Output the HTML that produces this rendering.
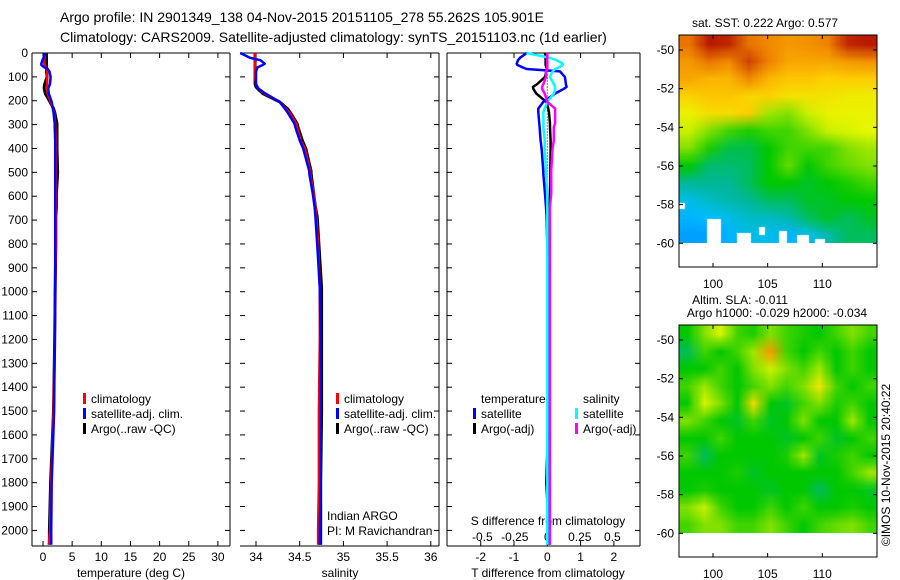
<!DOCTYPE html>
<html><head><meta charset="utf-8"><style>
body{margin:0;background:#fff;width:900px;height:580px;overflow:hidden;position:relative;font-family:"Liberation Sans",sans-serif}
svg{position:absolute;left:0;top:0}
canvas{position:absolute;image-rendering:auto}
text{font-family:"Liberation Sans",sans-serif;fill:#000}
</style></head><body>
<canvas id="sst" width="198" height="208" style="left:679px;top:35px;width:198px;height:208px"></canvas>
<canvas id="sla" width="198" height="208" style="left:679px;top:325px;width:198px;height:208px"></canvas>
<svg id="chart" width="900" height="580"></svg>
<script>
// ---- data ----
const depths = [0,20,30,45,50,60,67,77,100,130,142,150,170,205,233,248,296,310,366,400,495,505,590,645,685,800,985,1200,1500,1800,2000,2060];
const tempClim = [0.4,0.3,0.2,0.2,0.3,0.5,0.6,0.7,0.7,0.7,0.6,0.6,0.8,1.3,1.7,1.9,2.1,2.1,2.2,2.2,2.2,2.2,2.2,2.2,2.2,2.2,2.1,2.0,1.8,1.4,1.2,1.0];
const tempSat  = [0.35,0.1,-0.1,-0.3,-0.3,0.2,0.8,1.1,1.3,1.2,1.0,0.9,1.0,1.5,1.7,1.8,2.0,2.0,2.1,2.1,2.1,2.1,2.1,2.1,2.1,2.1,2.1,2.0,1.9,1.5,1.4,1.4];
const tempArgo = [0.6,0.6,0.6,0.6,0.6,0.6,0.6,0.6,0.7,0.3,0.2,0.2,0.4,1.2,1.8,2.0,2.4,2.4,2.4,2.4,2.5,2.5,2.3,2.3,2.2,2.2,2.1,2.0,1.8,1.3,1.1,1.1];
const salClim = [33.99,33.99,33.99,33.99,33.99,33.99,33.99,33.99,33.99,34.0,34.02,34.03,34.1,34.27,34.34,34.38,34.46,34.47,34.51,34.56,34.62,34.62,34.66,34.68,34.69,34.71,34.73,34.73,34.72,34.72,34.71,34.71];
const salSat  = [33.82,33.93,34.05,34.1,34.08,34.02,34.01,34.0,34.0,34.0,34.01,34.03,34.11,34.27,34.33,34.36,34.44,34.45,34.5,34.54,34.61,34.61,34.65,34.67,34.68,34.7,34.73,34.74,34.74,34.74,34.73,34.73];
const salArgo = [33.99,33.99,33.99,33.99,33.99,33.99,33.99,33.99,33.99,33.99,34.0,34.02,34.08,34.27,34.36,34.39,34.47,34.48,34.53,34.57,34.63,34.63,34.66,34.68,34.7,34.72,34.75,34.75,34.75,34.74,34.74,34.74];
const tdiffSat  = [-0.62,-0.82,-0.88,-0.92,-0.9,-0.75,-0.62,0.38,0.53,0.56,0.58,0.5,0.23,-0.12,-0.27,-0.27,-0.24,-0.23,-0.2,-0.17,-0.12,-0.12,-0.07,-0.04,-0.02,0,0.02,0.03,0.04,0.05,0.05,0.05];
const tdiffArgo = [-0.07,-0.05,-0.05,-0.05,-0.05,-0.03,0.0,-0.03,-0.07,-0.3,-0.43,-0.42,-0.33,-0.03,0.03,0.05,0.08,0.08,0.1,0.1,0.09,0.09,0.08,0.07,0.07,0.06,0.05,0.05,0.04,-0.03,0.05,0.05];
const sdiffSat  = [-0.16,0.02,0.07,0.12,0.12,0.09,0.06,0.04,0.02,0.05,0.06,0.06,0.05,0.0,-0.02,-0.03,-0.03,-0.03,-0.02,-0.02,-0.01,-0.01,0,0,0,0,0,0,0,0,0,0];
const sdiffArgo = [0,0,0,0,0,0,0,-0.01,-0.01,-0.03,-0.04,-0.04,-0.02,0.0,0.06,0.06,0.06,0.05,0.05,0.04,0.03,0.03,0.03,0.02,0.02,0.02,0.02,0.02,0.02,0.02,0.02,0.02];
const depthTicks = [0,100,200,300,400,500,600,700,800,900,1000,1100,1200,1300,1400,1500,1600,1700,1800,1900,2000];
const tempTicks = [0,5,10,15,20,25,30];
const salTicks = [34,34.5,35,35.5,36];
const tdiffTicks = [-2,-1,0,1,2];
const sdiffTicks = [-0.5,-0.25,0,0.25,0.5];
const latTicks = [-50,-52,-54,-56,-58,-60];
const lonTicks = [100,105,110];
const sstGrid = [
[.86,.93,.92,.86,.84,.82,.83,.85,.92,.93],
[.82,.86,.84,.9,.85,.8,.8,.8,.82,.83],
[.8,.78,.78,.84,.78,.76,.76,.74,.75,.75],
[.74,.76,.76,.73,.74,.71,.71,.71,.69,.69],
[.68,.72,.72,.75,.62,.6,.65,.68,.68,.68],
[.65,.6,.55,.52,.55,.55,.6,.65,.66,.67],
[.6,.52,.46,.46,.5,.55,.55,.55,.6,.62],
[.5,.44,.44,.45,.5,.58,.5,.55,.58,.6],
[.42,.42,.42,.45,.5,.5,.48,.5,.52,.55],
[.35,.38,.4,.42,.45,.45,.48,.48,.5,.5],
[.32,.33,.35,.38,.38,.4,.45,.48,.45,.48],
[.3,.3,.32,.35,.35,.32,.35,.4,.45,.45]];
const slaGrid = [
[.5,.6,.66,.55,.52,.6,.55,.52,.5,.55,.6,.55],
[.45,.55,.5,.55,.62,.82,.55,.5,.55,.5,.55,.5],
[.5,.5,.55,.5,.6,.65,.6,.55,.62,.5,.55,.5],
[.55,.62,.55,.5,.55,.6,.55,.6,.7,.55,.5,.55],
[.5,.66,.6,.5,.72,.5,.48,.55,.6,.52,.55,.5],
[.6,.55,.5,.48,.55,.48,.5,.6,.5,.5,.62,.5],
[.5,.5,.55,.5,.5,.5,.48,.5,.55,.48,.5,.55],
[.55,.45,.5,.5,.5,.5,.52,.62,.48,.52,.55,.5],
[.5,.5,.5,.52,.48,.5,.5,.5,.5,.5,.55,.62],
[.5,.52,.5,.5,.5,.48,.5,.5,.45,.5,.5,.48],
[.6,.65,.55,.5,.5,.55,.5,.55,.5,.5,.52,.5],
[.55,.6,.6,.55,.55,.6,.55,.5,.55,.58,.6,.55]];

// ---- scales ----
const Y0=53, PXM=0.2387;
const yD = d => Y0 + d*PXM;
const xT = t => 43 + t*5.83;
const xS = s => 256 + (s-34)*87.4;
const xTD = v => 547.3 + v*33.3;
const xSD = v => 547.3 + v*130;
const yLat = l => 50 + (-50 - l)*19.33;
const xLon = l => 713 + (l-100)*10.93;

const svg=document.getElementById('chart');
const NS='http://www.w3.org/2000/svg';
function mk(tag,attrs,parent){const e=document.createElementNS(NS,tag);for(const k in attrs)e.setAttribute(k,attrs[k]);(parent||svg).appendChild(e);return e;}
function txt(s,x,y,anchor,size,parent){const t=mk('text',{x:x,y:y,'text-anchor':anchor||'start','font-size':size||12},parent);t.textContent=s;return t;}

let g=mk('g',{});


txt('Argo profile: IN 2901349_138 04-Nov-2015 20151105_278 55.262S 105.901E',60,22,'start',14,g);
txt('Climatology: CARS2009. Satellite-adjusted climatology: synTS_20151103.nc (1d earlier)',60,42,'start',14,g);

const panels=[{x0:32,x1:230,name:'temperature-panel',left:true},{x0:240,x1:439,name:'salinity-panel',left:false},{x0:447,x1:640,name:'difference-panel',left:true}];
const YB=546;
panels.forEach(p=>{
  const pg=mk('g',{});
  
  
  mk('line',{x1:p.x0,y1:Y0,x2:p.x1,y2:Y0,stroke:'#000'},pg);
  mk('line',{x1:p.x0,y1:YB,x2:p.x1,y2:YB,stroke:'#000'},pg);
  mk('line',{x1:p.x1,y1:Y0,x2:p.x1,y2:YB,stroke:'#000'},pg);
  if(p.left) mk('line',{x1:p.x0,y1:Y0,x2:p.x0,y2:YB,stroke:'#000'},pg);
  depthTicks.forEach(d=>{
    const y=yD(d);
    mk('line',{x1:p.x0,y1:y,x2:p.x0+5,y2:y,stroke:'#000'},pg);
    mk('line',{x1:p.x1,y1:y,x2:p.x1-5,y2:y,stroke:'#000'},pg);
  });
});
const dl=mk('g',{});


depthTicks.forEach(d=>txt(String(d),28,yD(d)+4,'end',12,dl));

function xticks(ticks,fx,fmt,yl,name,top){
  const gg=mk('g',{});
  
  
  ticks.forEach(t=>{
    const x=fx(t);
    if(top!==false){mk('line',{x1:x,y1:YB,x2:x,y2:YB-5,stroke:'#000'},gg);mk('line',{x1:x,y1:Y0,x2:x,y2:Y0+5,stroke:'#000'},gg);}
    txt(fmt(t),x,yl,'middle',12,gg);
  });
}
xticks(tempTicks,xT,String,561,'x-axis-temperature-ticks');
xticks(salTicks,xS,String,561,'x-axis-salinity-ticks');
xticks(tdiffTicks,xTD,String,561,'x-axis-tdiff-ticks');
xticks(sdiffTicks,xSD,String,541,'x-axis-sdiff-ticks',false);
txt('temperature (deg C)',131,577,'middle',12);
txt('salinity',340,577,'middle',12);
txt('T difference from climatology',548,577,'middle',12);
txt('S difference from climatology',548,525,'middle',12);

mk('line',{x1:xTD(0),y1:yD(90),x2:xTD(0),y2:yD(1000),stroke:'#000','stroke-dasharray':'1,2'});

function line(vals,fx,color,name,w){
  const pts=vals.map((v,i)=>fx(v).toFixed(1)+','+yD(depths[i]).toFixed(1)).join(' ');
  const e=mk('polyline',{points:pts,fill:'none',stroke:color,'stroke-width':w||2.5,'stroke-linejoin':'round'});
  
  
}
line(tempArgo,xT,'#000','temp-argo-line',3);
line(tempClim,xT,'#f00','temp-climatology-line');
line(tempSat,xT,'#00f','temp-satellite-line');
line(salArgo,xS,'#000','salinity-argo-line',3);
line(salClim,xS,'#f00','salinity-climatology-line');
line(salSat,xS,'#00f','salinity-satellite-line');
line(tdiffArgo,xTD,'#000','tdiff-argo-line');
line(tdiffSat,xTD,'#00f','tdiff-satellite-line');
line(sdiffSat,xSD,'#0ff','sdiff-satellite-line');
line(sdiffArgo,xSD,'#f0f','sdiff-argo-line');

function legend(items,x,y0,name){
  const lg=mk('g',{});
  
  
  items.forEach((it,i)=>{
    const y=y0+i*15;
    if(it[1]) mk('rect',{x:x-8,y:y-10,width:3,height:11,fill:it[1]},lg);
    txt(it[0],x,y,'start',12,lg);
  });
}
const lg1=[['climatology','#f00'],['satellite-adj. clim.','#00f'],['Argo(..raw -QC)','#000']];
legend(lg1,91,403,'legend-temperature');
legend(lg1,344,403,'legend-salinity');
legend([['temperature',null],['satellite','#00f'],['Argo(-adj)','#000']],481,403,'legend-tdiff');
legend([['salinity',null],['satellite','#0ff'],['Argo(-adj)','#f0f']],583,403,'legend-sdiff');
const ia=mk('g',{});


txt('Indian ARGO',327,520,'start',12,ia);
txt('PI: M Ravichandran',327,535,'start',12,ia);

const stops=[[0,[0,0,140]],[0.25,[0,110,255]],[0.33,[0,190,255]],[0.42,[0,184,150]],[0.5,[0,200,0]],[0.6,[130,225,0]],[0.67,[232,248,0]],[0.75,[255,205,0]],[0.85,[240,130,0]],[0.95,[170,0,0]],[1,[130,0,0]]];
function col(v){for(let i=1;i<stops.length;i++){if(v<=stops[i][0]){const a=stops[i-1],b=stops[i];const f=(v-a[0])/(b[0]-a[0]);return a[1].map((c,k)=>Math.round(c+(b[1][k]-c)*f));}}return stops[stops.length-1][1];}
function drawMap(id,grid){
  const c=document.getElementById(id),ctx=c.getContext('2d');
  const R=grid.length,C=grid[0].length;
  const sm=document.createElement('canvas');sm.width=C;sm.height=R;
  const sc=sm.getContext('2d');const im=sc.createImageData(C,R);
  grid.forEach((row,r)=>row.forEach((v,k)=>{const cc=col(v);const o=(r*C+k)*4;im.data[o]=cc[0];im.data[o+1]=cc[1];im.data[o+2]=cc[2];im.data[o+3]=255;}));
  sc.putImageData(im,0,0);
  ctx.imageSmoothingEnabled=true;
  ctx.drawImage(sm,0,0,C,R,0,0,198,208);
}
drawMap('sst',sstGrid);
drawMap('sla',slaGrid);
const sstCtx=document.getElementById('sst').getContext('2d');
sstCtx.fillStyle='#fff';
[[0,168,6,6],[28,184,14,24],[58,198,14,10],[80,192,6,8],[100,196,8,12],[118,200,12,8],[136,204,10,4]].forEach(r=>sstCtx.fillRect(r[0],r[1],r[2],r[3]));

function mapFrame(top,name,titles){
  const mg=mk('g',{});
  
  
  const off=top-35;
  mk('rect',{x:679,y:top,width:198,height:232,fill:'none',stroke:'#000'},mg);
  latTicks.forEach(l=>{const y=yLat(l)+off;mk('line',{x1:679,y1:y,x2:683,y2:y,stroke:'#000'},mg);mk('line',{x1:877,y1:y,x2:873,y2:y,stroke:'#000'},mg);txt(String(l),674,y+4,'end',12,mg);});
  lonTicks.forEach(l=>{const x=xLon(l);mk('line',{x1:x,y1:top,x2:x,y2:top+4,stroke:'#000'},mg);mk('line',{x1:x,y1:top+232,x2:x,y2:top+228,stroke:'#000'},mg);txt(String(l),x,top+253,'middle',12,mg);});
  titles.forEach(t=>txt(t[0],t[1],t[2],'middle',12,mg));
}
mapFrame(35,'sst-map-frame',[['sat. SST: 0.222 Argo: 0.577',765,27]]);
mapFrame(325,'sla-map-frame',[['Altim. SLA: -0.011',740,304],['Argo h1000: -0.029 h2000: -0.034',777,317]]);
const cp=txt('©IMOS 10-Nov-2015 20:40:22',0,0,'middle',12);
cp.setAttribute('transform','translate(890,465) rotate(-90)');

</script>
</body></html>
